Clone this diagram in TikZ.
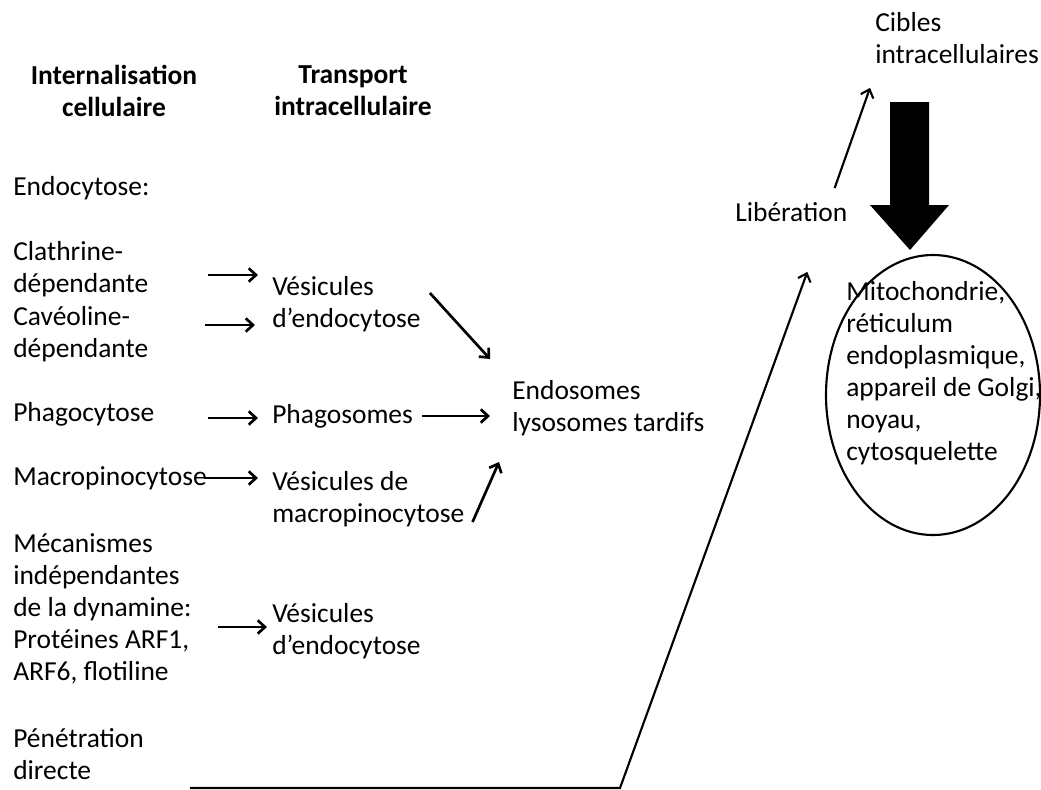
\documentclass[tikz,border=0pt]{standalone}
\usepackage{fontspec}
\setmainfont{Carlito}
\usetikzlibrary{arrows.meta,calc,positioning,shapes.geometric}

\begin{document}
\begin{tikzpicture}[x=0.75pt,y=-0.75pt,
  >={Straight Barb[length=5.5pt,width=10pt]},
  every node/.style={inner sep=0pt,font=\fontsize{20.6}{24}\selectfont},
  lbl/.style={anchor=west,align=left},
  col/.style={text width=142.5pt,anchor=west,align=flush left},
  head/.style={align=center,font=\fontsize{20.6}{24}\selectfont\bfseries},
  arr/.style={->,line width=2pt}]
  \useasboundingbox (0,0) rectangle (1041,789);

  % column headings
  \node[head] (inthd) at (114,91) {Internalisation\\cellulaire};
  \node[head] (trhd) at (353,91) {Transport\\intracellulaire};

  % internalisation
  \node[col] (endo) at (13,188) {Endocytose:};
  \node[col] (clath) at (13,269) {Clathrine-\\dépendante};
  \node[col] (caveo) at (13,334) {Cavéoline-\\dépendante};
  \node[col] (phago) at (13,414) {Phagocytose};
  \node[col] (macro) at (13,478) {Macropinocytose};
  \node[col] (meca) at (13,609) {Mécanismes\\indépendantes\\de la dynamine:\\Protéines ARF1,\\ARF6, flotiline};
  \node[col] (pene) at (13,754) {Pénétration\\directe};

  % transport
  \node[lbl] (vesA) at (272,304) {Vésicules\\d’endocytose};
  \node[lbl] (phagos) at (272,416) {Phagosomes};
  \node[lbl] (vesmac) at (272,499) {Vésicules de\\macropinocytose};
  \node[lbl] (vesB) at (272,631) {Vésicules\\d’endocytose};
  \node[lbl] (endos) at (512,408) {Endosomes\\lysosomes tardifs};

  % cibles
  \node[lbl] (lib) at (735,212) {Libération};
  \node[lbl] (cibles) at (875,38) {Cibles\\intracellulaires};
  \node[draw,ellipse,line width=1.6pt,minimum width=160.5pt,minimum height=210pt] (organ) at (933,395) {};
  \node[lbl] (orgtxt) at (846,373) {Mitochondrie,\\réticulum\\endoplasmique,\\appareil de Golgi,\\noyau,\\cytosquelette};

  \draw[arr,shorten <=3pt,shorten >=10.5pt] ([yshift=-4.5pt]clath.east) -- ([yshift=-4.5pt]clath.east -| vesA.west);
  \draw[arr,shorten <=0.75pt,shorten >=12.75pt] ([yshift=6.75pt]caveo.east) -- ([yshift=6.75pt]caveo.east -| vesA.west);
  \draw[arr,shorten <=3pt,shorten >=10.5pt] ([yshift=-3pt]phago.east) -- ([yshift=-3pt]phago.east -| phagos.west);
  \draw[arr,shorten >=10.5pt] (macro.east) -- (macro.east -| vesmac.west);
  \draw[arr,shorten <=10.5pt,shorten >=3.75pt] ([yshift=-13.5pt]meca.east) -- ([yshift=-13.5pt]meca.east -| vesB.west);

  \draw[arr] ($(vesA.east)+(9,-11)$) -- ($(endos.west)+(-22,-49)$);
  \draw[arr,shorten <=6.75pt,shorten >=16.5pt] (phagos.east) -- (phagos.east -| endos.west);
  \draw[arr] ($(vesmac.east)+(8,23)$) -- ($(endos.south west)+(-13,26)$);

  % penetration directe
  \coordinate (pstart) at (190,788);
  \coordinate (pbend) at (620,788);
  \draw[arr,line width=1.6pt] (pstart) -- (pbend) -- ($(lib.south)+(16,50)$);
  \draw[arr,line width=1.6pt] ($(lib.north east)+(-13,-14)$) -- ($(cibles.south west)+(-5,24)$);

  \fill (890,102) -- (929,102) -- (929,205) -- (949,205) -- (910,250) -- (870,205) -- (890,205) -- cycle;
\end{tikzpicture}
\end{document}
